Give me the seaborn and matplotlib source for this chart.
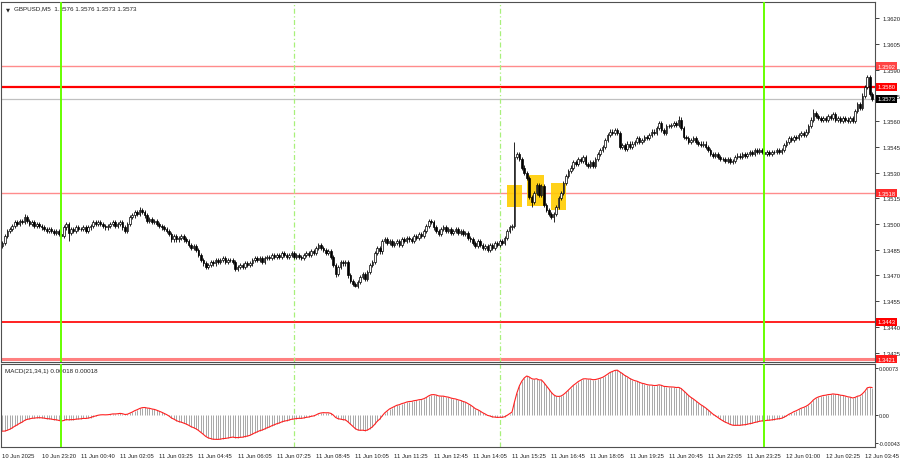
import numpy as np
import pandas as pd
import matplotlib
matplotlib.use("Agg")
import matplotlib.pyplot as plt
import seaborn as sns
from matplotlib.patches import Rectangle

# GBPUSD M5 closes, one row per 16 bars (80 minutes), starting 10 Jun 22:00
closes = [
    1.3489, 1.3493, 1.3496, 1.3497, 1.3499, 1.3501, 1.3500, 1.3502, 1.3501, 1.3504, 1.3502, 1.3500, 1.3501, 1.3499, 1.3500, 1.3499,
    1.3498, 1.3497, 1.3496, 1.3497, 1.3496, 1.3495, 1.3496, 1.3494, 1.3493, 1.3498, 1.3500, 1.3495, 1.3497, 1.3496, 1.3498, 1.3497,
    1.3497, 1.3498, 1.3496, 1.3498, 1.3499, 1.3501, 1.3500, 1.3501, 1.3500, 1.3499, 1.3498, 1.3499, 1.3500, 1.3501, 1.3499, 1.3500,
    1.3501, 1.3498, 1.3496, 1.3500, 1.3504, 1.3505, 1.3507, 1.3506, 1.3508, 1.3507, 1.3505, 1.3502, 1.3503, 1.3501, 1.3502, 1.3500,
    1.3499, 1.3498, 1.3497, 1.3496, 1.3494, 1.3491, 1.3493, 1.3491, 1.3492, 1.3493, 1.3491, 1.3490, 1.3488, 1.3486, 1.3487, 1.3485,
    1.3482, 1.3479, 1.3477, 1.3475, 1.3476, 1.3478, 1.3477, 1.3479, 1.3478, 1.3479, 1.3480, 1.3478, 1.3479, 1.3479, 1.3478, 1.3474,
    1.3475, 1.3476, 1.3475, 1.3477, 1.3476, 1.3477, 1.3479, 1.3480, 1.3479, 1.3480, 1.3478, 1.3480, 1.3481, 1.3480, 1.3482, 1.3481,
    1.3482, 1.3481, 1.3483, 1.3482, 1.3481, 1.3482, 1.3483, 1.3481, 1.3482, 1.3481, 1.3480, 1.3482, 1.3483, 1.3482, 1.3484, 1.3483,
    1.3486, 1.3488, 1.3486, 1.3485, 1.3483, 1.3484, 1.3481, 1.3476, 1.3471, 1.3475, 1.3478, 1.3477, 1.3478, 1.3470, 1.3467, 1.3465,
    1.3464, 1.3466, 1.3469, 1.3471, 1.3468, 1.3472, 1.3476, 1.3478, 1.3483, 1.3486, 1.3484, 1.3490, 1.3491, 1.3489, 1.3490, 1.3488,
    1.3489, 1.3490, 1.3488, 1.3491, 1.3490, 1.3492, 1.3491, 1.3490, 1.3493, 1.3492, 1.3494, 1.3493, 1.3496, 1.3499, 1.3502, 1.3501,
    1.3498, 1.3496, 1.3494, 1.3497, 1.3498, 1.3496, 1.3497, 1.3495, 1.3496, 1.3497, 1.3495, 1.3496, 1.3494, 1.3495, 1.3492, 1.3491,
    1.3489, 1.3487, 1.3490, 1.3488, 1.3486, 1.3487, 1.3485, 1.3488, 1.3486, 1.3489, 1.3488, 1.3490, 1.3489, 1.3492, 1.3496, 1.3498,
    1.3499, 1.3539, 1.3541, 1.3538, 1.3533, 1.3530, 1.3527, 1.3516, 1.3513, 1.3518, 1.3523, 1.3517, 1.3522, 1.3511, 1.3508, 1.3506,
    1.3504, 1.3506, 1.3510, 1.3515, 1.3518, 1.3524, 1.3528, 1.3531, 1.3533, 1.3536, 1.3535, 1.3538, 1.3537, 1.3539, 1.3535, 1.3534,
    1.3536, 1.3534, 1.3538, 1.3541, 1.3543, 1.3545, 1.3549, 1.3552, 1.3554, 1.3553, 1.3555, 1.3553, 1.3545, 1.3546, 1.3544, 1.3547,
    1.3545, 1.3547, 1.3548, 1.3550, 1.3548, 1.3549, 1.3551, 1.3550, 1.3552, 1.3554, 1.3553, 1.3556, 1.3559, 1.3555, 1.3553, 1.3557,
    1.3557, 1.3558, 1.3559, 1.3558, 1.3561, 1.3556, 1.3551, 1.3550, 1.3548, 1.3549, 1.3550, 1.3548, 1.3547, 1.3546, 1.3547, 1.3545,
    1.3543, 1.3541, 1.3540, 1.3541, 1.3539, 1.3538, 1.3538, 1.3537, 1.3538, 1.3536, 1.3537, 1.3539, 1.3540, 1.3539, 1.3541, 1.3540,
    1.3541, 1.3542, 1.3541, 1.3543, 1.3542, 1.3543, 1.3542, 1.3541, 1.3542, 1.3541, 1.3542, 1.3542, 1.3543, 1.3542, 1.3543, 1.3546,
    1.3548, 1.3550, 1.3549, 1.3551, 1.3550, 1.3552, 1.3553, 1.3552, 1.3554, 1.3557, 1.3561, 1.3565, 1.3563, 1.3562, 1.3561, 1.3562,
    1.3561, 1.3563, 1.3562, 1.3564, 1.3561, 1.3562, 1.3560, 1.3562, 1.3561, 1.3560, 1.3562, 1.3560, 1.3566, 1.3570, 1.3568, 1.3575,
    1.3580, 1.3586, 1.3576, 1.3573,
]
first_open = 1.3487

# notable wick extremes (bar index -> price)
wick_highs = {9: 1.3506, 56: 1.3510, 129: 1.3489, 209: 1.3548, 276: 1.3563, 331: 1.3567, 353: 1.3587}
wick_lows = {27: 1.3490, 136: 1.3469, 144: 1.3463, 216: 1.3510, 225: 1.3501, 297: 1.3535}

time_labels = ["10 Jun 2025", "10 Jun 23:20", "11 Jun 00:40", "11 Jun 02:05", "11 Jun 03:25",
               "11 Jun 04:45", "11 Jun 06:05", "11 Jun 07:25", "11 Jun 08:45", "11 Jun 10:05",
               "11 Jun 11:25", "11 Jun 12:45", "11 Jun 14:05", "11 Jun 15:25", "11 Jun 16:45",
               "11 Jun 18:05", "11 Jun 19:25", "11 Jun 20:45", "11 Jun 22:05", "11 Jun 23:25",
               "12 Jun 01:00", "12 Jun 02:25", "12 Jun 03:45"]
price_ticks = [1.3425, 1.3440, 1.3455, 1.3470, 1.3485, 1.3500, 1.3515, 1.3530,
               1.3545, 1.3560, 1.3575, 1.3590, 1.3605, 1.3620]

# horizontal levels: price, colour, width
levels = [(1.3592, "#ff8c8c", 1.0), (1.3580, "#ff0000", 1.6), (1.3518, "#ff8c8c", 1.0),
          (1.3443, "#ff2020", 1.4), (1.3421, "#ff8080", 2.2)]
current_price = 1.3573

# vertical session lines (bar index)
midnight_bars = [24, 311]
session_bars = [119, 203]

# yellow signal boxes: (bar start, bar end, price low, price high)
signal_boxes = [(206.1, 212.2, 1.35100, 1.35228),
                (214.3, 221.2, 1.35106, 1.35287),
                (224.1, 230.2, 1.35082, 1.35240)]

# MACD(21,34,1); EMAs carried in from before the window (macd ~ -0.00023 at the left edge)
macd_fast, macd_slow = 21, 34
ema_fast_start, ema_slow_start = 1.34975, 1.34998

sns.set_theme(style="white")
plt.rcParams["font.family"] = ["Liberation Sans", "DejaVu Sans"]
FS = 4.2


def ema(values, span, start):
    k = 2 / (span + 1)
    out, e = [], start
    for v in values:
        e = e + k * (v - e)
        out.append(e)
    return np.array(out)


df = pd.DataFrame({"close": closes})
df["bar"] = np.arange(len(df))
df["open"] = [first_open] + closes[:-1]
pad = 0.00012
df["high"] = df[["open", "close"]].max(axis=1) + pad
df["low"] = df[["open", "close"]].min(axis=1) - pad
for k, v in wick_highs.items():
    df.loc[k, "high"] = v
for k, v in wick_lows.items():
    df.loc[k, "low"] = v
df["macd"] = ema(closes, macd_fast, ema_fast_start) - ema(closes, macd_slow, ema_slow_start)

fig = plt.figure(figsize=(9, 4.6), dpi=100)
ax = fig.add_axes([0.0015, 1 - 363 / 460, 874 / 900, 360 / 460])
ax2 = fig.add_axes([0.0015, 12 / 460, 874 / 900, 83 / 460])

xlim = (-0.45, 356.3)

# candles
up = df["close"] >= df["open"]
body_h = (df["close"] - df["open"]).abs().clip(lower=0.000025)
body_b = df[["open", "close"]].min(axis=1)
ax.vlines(df["bar"], df["low"], df["high"], color="black", lw=0.6, zorder=3)
ax.bar(df["bar"][up], body_h[up], bottom=body_b[up], width=0.66,
       color="white", edgecolor="black", linewidth=0.5, zorder=4)
ax.bar(df["bar"][~up], body_h[~up], bottom=body_b[~up], width=0.66,
       color="black", edgecolor="black", linewidth=0.5, zorder=4)

for x0, x1, p0, p1 in signal_boxes:
    ax.add_patch(Rectangle((x0, p0), x1 - x0, p1 - p0, facecolor="#ffcc00",
                           edgecolor="none", alpha=0.9, zorder=2))

for p, c, w in levels:
    ax.axhline(p, color=c, lw=w, zorder=1)
ax.axhline(current_price, color="#c0c0c0", lw=0.9, zorder=1)

for a in (ax, ax2):
    for b in midnight_bars:
        a.axvline(b, color="#66ff00", lw=1.4, zorder=5)
    for b in session_bars:
        a.axvline(b, color="#a8f07a", lw=0.9, ls=(0, (4, 2, 1, 2)), zorder=1)
    a.set_xlim(*xlim)
    for s in a.spines.values():
        s.set_color("#505050")
        s.set_linewidth(0.8)

ax.set_ylim(1.34195, 1.36296)
ax.set_xticks([])
ax.yaxis.tick_right()
ax.set_yticks(price_ticks)
ax.set_yticklabels([f"{p:.4f}" for p in price_ticks])
ax.tick_params(axis="y", labelsize=FS, length=3, width=0.6, pad=2, colors="#202020")

# level tags on the price scale
tags = [(1.3592, "#ff4545", "white"), (1.3580, "#ff0000", "white"), (1.3573, "black", "white"),
        (1.3518, "#ff2a2a", "white"), (1.3443, "#ff0000", "white"), (1.3421, "#ff1a1a", "white")]
for p, bg, fg in tags:
    ax.text(1.0025, p, f"{p:.4f}", transform=ax.get_yaxis_transform(), va="center", ha="left",
            fontsize=FS, color=fg, zorder=10, clip_on=False,
            bbox=dict(boxstyle="square,pad=0.25", facecolor=bg, edgecolor="none"))

ax.text(0.005, 0.987, "\u25BC", transform=ax.transAxes, fontsize=3.8, va="top", ha="left",
        family="DejaVu Sans")
ax.text(0.014, 0.99, "GBPUSD,M5  1.3576 1.3576 1.3573 1.3573", transform=ax.transAxes,
        fontsize=4.5, va="top", ha="left", color="#202020")

# MACD panel
ax2.vlines(df["bar"], 0, df["macd"], color="#a8a8a8", lw=0.7, zorder=2)
sns.lineplot(data=df, x="bar", y="macd", ax=ax2, color="#ff2020", lw=0.8, zorder=3)
ax2.set_ylim(-0.00049, 0.00079)
ax2.yaxis.tick_right()
ax2.set_yticks([0.00073, 0.0, -0.00043])
ax2.set_yticklabels(["0.00073", "0.00", "-0.00043"])
ax2.set_xlabel("")
ax2.set_ylabel("")
ax2.set_xticks(np.arange(len(time_labels)) * 16)
ax2.set_xticklabels(time_labels)
plt.setp(ax2.get_xticklabels(), ha="left")
ax2.tick_params(axis="x", labelsize=FS, length=3, width=0.6, pad=1.5, colors="#202020")
ax2.tick_params(axis="y", labelsize=3.9, length=2, width=0.6, pad=0.8, colors="#202020")
ax2.text(0.004, 0.95, "MACD(21,34,1) 0.00018 0.00018", transform=ax2.transAxes,
         fontsize=4.5, va="top", ha="left", color="#202020")

fig.savefig("out.png", dpi=100)
